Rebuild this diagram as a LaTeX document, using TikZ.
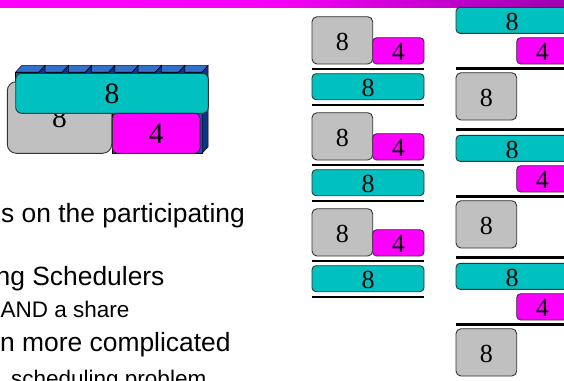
\documentclass[tikz,border=0pt]{standalone}
\usepackage{fontspec}
\setmainfont{Liberation Sans}
\newfontfamily\digitfont{Liberation Serif}
\usepackage{tikz}
\definecolor{jobgray}{RGB}{192,192,192}
\definecolor{jobcyan}{RGB}{0,192,192}
\definecolor{jobpink}{RGB}{255,0,255}
\definecolor{barleft}{RGB}{255,0,255}
\definecolor{barmid}{RGB}{245,0,245}
\definecolor{barright}{RGB}{158,0,176}
\definecolor{cubetop}{RGB}{51,112,204}
\definecolor{cubefront}{RGB}{30,90,190}
\definecolor{cubeside}{RGB}{12,52,135}
\pgfdeclarehorizontalshading{barshade}{100bp}{color(0bp)=(barleft); color(25bp)=(barleft); color(50bp)=(barmid); color(75bp)=(barright); color(100bp)=(barright)}

\begin{document}
\begin{tikzpicture}[x=1pt,y=1pt,
    job/.style={draw=black!80, line width=0.9pt, inner sep=0pt, text height=20pt, text depth=0pt, font=\digitfont\fontsize{26}{26}\selectfont},
    grayjob/.style={job, fill=jobgray, rounded corners=5pt, minimum width=60.7pt, minimum height=47.3pt},
    pinkjob/.style={job, fill=jobpink, rounded corners=4pt, minimum width=51.3pt, minimum height=26.3pt},
    cyanjob/.style={job, fill=jobcyan, rounded corners=4pt, minimum width=112pt, minimum height=26pt},
    bigjob/.style={font=\digitfont\fontsize{29.5}{29.5}\selectfont},
    slotline/.style={line width=2.5pt},
    cubeface/.style={draw=black, line width=0.5pt},
    mainline/.style={anchor=base west, inner sep=0pt, font=\fontsize{26.4}{31}\selectfont},
    subline/.style={mainline, font=\fontsize{22.5}{27}\selectfont}]
    \clip (0,0) rectangle (564,-380);
    \fill[white] (0,0) rectangle (564,-380);
    \shade[shading=barshade] (0,0) rectangle (564,-7.5);

    \foreach \bx in {178.8,155.5,132.2,108.9,85.6,62.3,39.0,15.7} {
        \filldraw[cubeface, fill=cubefront] (\bx,-72) rectangle ++(23.3,-41);
        \filldraw[cubeface, fill=cubetop] (\bx,-72) -- ++(6,6.5) -- ++(23.3,0) -- ++(-6,-6.5) -- cycle;
        \filldraw[cubeface, fill=cubeside] (\bx+23.3,-72) -- ++(6,6.5) -- ++(0,-41) -- ++(-6,-6.5) -- cycle;
    }
    \filldraw[cubeface, fill=cubefront] (112.3,-113.3) rectangle (202.1,-153.3);
    \filldraw[cubeface, fill=cubeside] (202.1,-113.3) -- ++(6,6.5) -- ++(0,-40) -- ++(-6,-6.5) -- cycle;
    \node[grayjob, bigjob, rounded corners=9pt, minimum width=104.4pt, minimum height=71.6pt] (big8g) at (59.5,-117.5) {8};
    \node[cyanjob, bigjob, rounded corners=6pt, minimum width=192.6pt, minimum height=40pt] (big8c) at (112,-93.3) {8};
    \node[pinkjob, bigjob, rounded corners=5pt, minimum width=87.7pt, minimum height=40pt] (big4) at (156.2,-133.3) {4};

    \node[mainline] (t1) at (1,-222.8) {s on the participating};
    \node[mainline] (t2) at (-4.5,-285) {ng Schedulers};
    \node[subline] (t3) at (0.5,-317.3) {AND a share};
    \node[mainline] (t4) at (0,-351.7) {n more complicated};
    \node[subline] (t5) at (11,-386) {scheduling problem};

    \node[grayjob] (la8) at (342.35,-40.35) {8};
    \node[pinkjob] (la4) at (398.35,-50.85) {4};
    \draw[slotline] (312,-69.2) -- (424,-69.2);
    \node[cyanjob] (lb8) at (368,-86.7) {8};
    \draw[slotline] (312,-105.2) -- (424,-105.2);
    \node[grayjob] (lc8) at (342.35,-136.35) {8};
    \node[pinkjob] (lc4) at (398.35,-146.85) {4};
    \draw[slotline] (312,-165.2) -- (424,-165.2);
    \node[cyanjob] (ld8) at (368,-182.7) {8};
    \draw[slotline] (312,-201.2) -- (424,-201.2);
    \node[grayjob] (le8) at (342.35,-232.35) {8};
    \node[pinkjob] (le4) at (398.35,-242.85) {4};
    \draw[slotline] (312,-261.2) -- (424,-261.2);
    \node[cyanjob] (lf8) at (368,-278.7) {8};
    \draw[slotline] (312,-297.2) -- (424,-297.2);

    \node[cyanjob] (ra8) at (512,-20.3) {8};
    \node[pinkjob] (ra4) at (542.35,-50.85) {4};
    \draw[slotline] (456,-68.6) -- (568,-68.6);
    \node[grayjob] (rb8) at (486.35,-96.35) {8};
    \draw[slotline] (456,-129.3) -- (568,-129.3);
    \node[cyanjob] (rc8) at (512,-148.3) {8};
    \node[pinkjob] (rc4) at (542.35,-178.85) {4};
    \draw[slotline] (456,-196.6) -- (568,-196.6);
    \node[grayjob] (rd8) at (486.35,-224.35) {8};
    \draw[slotline] (456,-257.3) -- (568,-257.3);
    \node[cyanjob] (re8) at (512,-276.3) {8};
    \node[pinkjob] (re4) at (542.35,-306.85) {4};
    \draw[slotline] (456,-324.6) -- (568,-324.6);
    \node[grayjob] (rf8) at (486.35,-352.35) {8};
\end{tikzpicture}
\end{document}
